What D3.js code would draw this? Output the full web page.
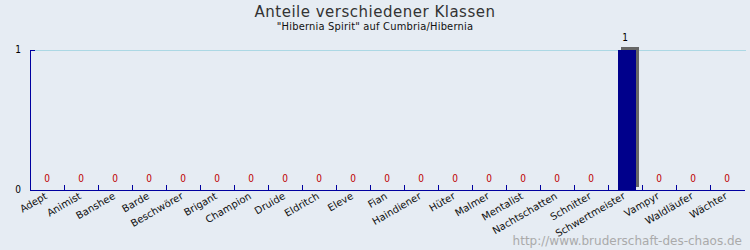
<!DOCTYPE html>
<html>
<head>
<meta charset="utf-8">
<script src="https://cdn.jsdelivr.net/npm/d3@7"></script>
<style>
body { margin: 0; background: #e6ecf3; }
svg { display: block; }
</style>
</head>
<body>
<div id="chart"></div>
<script>
var klassen = ["Adept","Animist","Banshee","Barde","Beschwörer","Brigant","Champion","Druide","Eldritch","Eleve","Fian","Haindiener","Hüter","Malmer","Mentalist","Nachtschatten","Schnitter","Schwertmeister","Vampyr","Waldläufer","Wächter"]
var anzahl = [0,0,0,0,0,0,0,0,0,0,0,0,0,0,0,0,0,1,0,0,0]
var yTicks = [0, 1]

var width = 750, height = 250
var margin = {left: 30, right: 6, top: 50, bottom: 60}

var svg = d3.select("#chart").append("svg")
    .attr("width", width).attr("height", height)

svg.append("rect").attr("width", width).attr("height", height).attr("fill", "#e6ecf3")

var x = d3.scaleBand().domain(klassen).range([margin.left, 744])
var y = d3.scaleLinear().domain([0, 1]).range([190, 50])

// titel
svg.append("text")
    .attr("x", 375).attr("y", 16.5)
    .attr("text-anchor", "middle")
    .style("font-family", "DejaVu Sans")
    .style("font-size", "15px").style("letter-spacing", "0.5px").style("fill", "#333")
    .text("Anteile verschiedener Klassen")
svg.append("text")
    .attr("x", 375).attr("y", 29.5)
    .attr("text-anchor", "middle")
    .style("font-family", "DejaVu Sans Condensed, DejaVu Sans").style("font-stretch", "condensed")
    .style("font-size", "11px").style("letter-spacing", "0.2px").style("fill", "#111")
    .text("\"Hibernia Spirit\" auf Cumbria/Hibernia")

// gitterlinie
svg.selectAll(".grid")
    .data(yTicks.filter(d => d > 0))
    .enter().append("line")
    .attr("x1", 35).attr("x2", 746)
    .attr("y1", d => y(d) + 0.5).attr("y2", d => y(d) + 0.5)
    .attr("stroke", "#acd8e4").attr("stroke-width", 1)

// balken mit schatten
var bars = svg.selectAll(".bar")
    .data(klassen.map((k, i) => ({k: k, v: anzahl[i]})).filter(d => d.v > 0))
    .enter().append("g")
bars.append("rect")
    .attr("x", d => x(d.k) + 13).attr("y", d => y(d.v) - 3)
    .attr("width", 18).attr("height", d => y(0) - y(d.v))
    .attr("fill", "#666")
bars.append("rect")
    .attr("x", d => x(d.k) + 10).attr("y", d => y(d.v))
    .attr("width", 18).attr("height", d => y(0) - y(d.v))
    .attr("fill", "#00008b")

// werte
svg.selectAll(".val")
    .data(klassen.map((k, i) => ({k: k, v: anzahl[i]})))
    .enter().append("text")
    .attr("x", d => x(d.k) + x.bandwidth() / 2)
    .attr("y", d => d.v > 0 ? y(d.v) - 9 : 182)
    .attr("text-anchor", "middle")
    .style("font-family", "DejaVu Sans Condensed, DejaVu Sans").style("font-stretch", "condensed")
    .style("font-size", "10px")
    .style("fill", d => d.v > 0 ? "#000" : "#c00000")
    .text(d => d.v)

// achsen
var axc = "#0000a0"
svg.append("line").attr("x1", 30.5).attr("x2", 30.5).attr("y1", 50).attr("y2", 190).attr("stroke", axc)
svg.append("line").attr("x1", 30).attr("x2", 35).attr("y1", 50.5).attr("y2", 50.5).attr("stroke", axc)
svg.append("line").attr("x1", 30).attr("x2", 745).attr("y1", 190.5).attr("y2", 190.5).attr("stroke", axc)
svg.selectAll(".xt")
    .data(klassen.slice(1))
    .enter().append("line")
    .attr("x1", d => Math.round(x(d)) + 0.5).attr("x2", d => Math.round(x(d)) + 0.5)
    .attr("y1", 185).attr("y2", 190)
    .attr("stroke", axc)

svg.selectAll(".yl")
    .data(yTicks)
    .enter().append("text")
    .attr("x", 21).attr("y", d => y(d) + 3)
    .attr("text-anchor", "end")
    .style("font-family", "DejaVu Sans Condensed, DejaVu Sans").style("font-stretch", "condensed")
    .style("font-size", "10px").style("fill", "#000")
    .text(d => d)

svg.selectAll(".xl")
    .data(klassen)
    .enter().append("text")
    .attr("transform", d => "translate(" + (x(d) + x.bandwidth() / 2 + 1) + ",198) rotate(-30)")
    .attr("text-anchor", "end")
    .style("font-family", "DejaVu Sans").style("font-size", "10px").style("fill", "#111")
    .text(d => d)

svg.append("text")
    .attr("x", 742).attr("y", 245)
    .attr("text-anchor", "end")
    .style("font-family", "DejaVu Sans").style("font-size", "12px").style("fill", "#aaa")
    .text("http://www.bruderschaft-des-chaos.de")
</script>
</body>
</html>
